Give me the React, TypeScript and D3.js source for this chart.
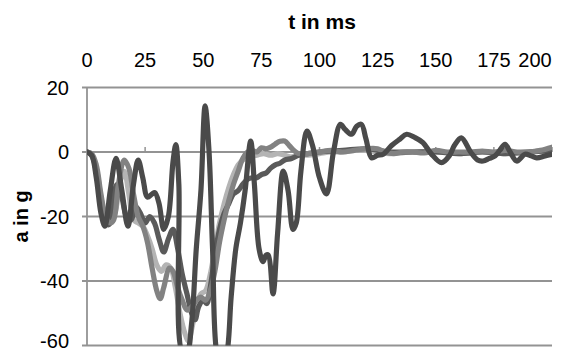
import React, { useEffect, useRef } from 'react';
import * as d3 from 'd3';

const xTicks = [0, 25, 50, 75, 100, 125, 150, 175, 200];
const yTicks = [20, 0, -20, -40, -60];

// [t in ms, a in g]
const lightSeries = [
  [0, 0], [2, -1], [4, -5], [6, -14], [8, -20], [10, -21], [12, -19], [14, -10], [16, -6], [18, -13],
  [20, -21], [22, -22], [24, -23], [26, -26], [28, -30], [30, -35], [32, -37], [34, -35], [36, -36],
  [38, -42], [40, -50], [42, -56], [43.6, -58.6], [45, -55], [47, -48], [49, -44], [51, -43], [53, -38],
  [55, -30], [57, -22], [59, -16], [61, -11], [63, -7], [65, -4], [67, -2.5], [70, -1.5], [73, -1],
  [76, -0.5], [79, -1], [82, -0.5], [85, -1], [88, -1.5], [91, -1], [95, -1], [100, -0.5], [105, 0],
  [110, 0], [115, 0.5], [120, 0.5], [125, 0], [130, -0.5], [140, 0], [150, 0], [160, -0.5], [170, 0],
  [180, -0.5], [190, 0], [200, 0.5],
];

const midSeries = [
  [0, 0], [2, -0.5], [4, -4], [6, -13], [8, -20], [10, -22], [11.5, -21], [13.5, -10], [16, -2.5],
  [18, -5], [20, -13], [22, -20], [24, -23], [26, -28], [28, -36], [30, -43], [31.5, -45.5], [33, -42],
  [35.5, -36], [37, -37], [39, -42], [41, -46], [43, -49], [45, -48], [47, -46], [49, -45], [51, -46],
  [53, -43], [55, -37], [57, -28], [59, -21], [61, -15], [63, -10], [65, -6], [67, -2], [69, 0],
  [71, 0.5], [73, 0], [75, 1.3], [77, 1], [79, 1.5], [81, 2.5], [83, 3.3], [85, 3.4], [87, 2],
  [89, 0.5], [91, -0.5], [95, -0.5], [100, 0], [105, 0.5], [110, 0], [115, 0.5], [120, 1], [125, 1],
  [128, 0], [132, -0.5], [136, 0], [140, 0], [145, -0.3], [150, 0.5], [155, 0], [160, 0], [165, 0],
  [170, 0.3], [175, 0], [180, 0.5], [185, 0], [190, 0], [195, 0.5], [200, 1.5],
];

const darkSeries = [
  [0, 0], [2, -1], [4, -6], [6, -16], [8, -22], [9.5, -22.5], [11, -15], [13, -10], [15, -14],
  [17, -20], [19, -21], [21, -17], [23, -19], [25, -22], [27, -20], [29, -22], [31, -27], [33, -31],
  [35, -27], [37, -24], [39, -30], [41, -38], [43, -44], [45, -50], [46.5, -52], [48, -48], [50, -46],
  [51.5, -47], [53, -42], [55, -32], [57, -24], [59, -19], [61, -16], [63, -13], [65, -12], [67, -10],
  [69, -8.5], [71, -8], [73, -8], [75, -7], [77, -6.5], [79, -5], [81, -4], [83, -3.5], [85, -2.5],
  [88, -2], [91, -1], [95, -0.5], [100, 0], [110, 0.5], [120, 1], [130, 0], [140, 0], [150, 0],
  [160, -0.5], [170, 0], [180, -0.5], [190, 0], [200, 0.5],
];

const darkestSeries = [
  [0, 0], [2, -1], [4, -8], [6, -19], [7.7, -23], [10, -12], [12.5, -2], [15, -12], [17.6, -23],
  [20, -10], [22, -2.5], [24, -8], [26, -14], [28, -13], [29.2, -12.6], [31, -16], [33, -24], [35, -20],
  [37, -3], [38.2, 2.3], [39.5, -10], [41, -62], [43, -62], [45, -53], [47, -30], [49, -12],
  [50.8, 14.3], [52.5, 0], [54, -30], [56, -63], [58, -66], [60, -63], [62, -45], [64, -30], [66, -22],
  [68, -12], [70.4, 3.4], [72, -10], [74, -30], [75.7, -34], [77, -32], [78, -32], [80, -44], [82, -25],
  [84.4, -5.9], [86.5, -12], [88.6, -24], [90, -22], [92, -6], [94.6, 6.5], [97, 2], [100, -8],
  [103, -13], [106, 0], [109, 8.6], [111, 7], [113.8, 5.5], [116, 8], [118, 8.6], [120, 4],
  [122.4, -1.8], [125, -1], [127.4, -0.7], [131, 2], [134.6, 4], [137.5, 5.5], [141, 4.5],
  [144.5, 2.9], [148, -0.5], [152.5, -3.3], [156, -1], [158, 2], [161, 4.4], [165, 0], [168, -2.5],
  [170.4, -2.8], [173, -2], [175.5, -1.2], [177.5, 0.5], [179.8, 2.4], [182, 0], [184.8, -2.8],
  [188.4, -0.7], [191, -1.2], [193.4, -1.8], [197, -1.2], [200, -0.7],
];

const seriesList = [
  { data: lightSeries, color: '#b4b4b4' },
  { data: darkSeries, color: '#5a5a5a' },
  { data: midSeries, color: '#828282' },
  { data: darkestSeries, color: '#4a4a4a' },
];

const App = () => {
  const svgRef = useRef(null);

  useEffect(() => {
    const svg = d3.select(svgRef.current);
    const width = 571;
    const height = 352;
    const margin = { top: 87.5, right: 19, bottom: 6.5, left: 87 };
    const plotW = width - margin.left - margin.right;
    const plotH = height - margin.top - margin.bottom;

    svg.selectAll('*').remove();

    const x = d3.scaleLinear().domain([0, 200]).range([margin.left, margin.left + plotW]);
    const y = d3.scaleLinear().domain([-60, 20]).range([margin.top + plotH, margin.top]);

    svg.append('defs').append('clipPath')
      .attr('id', 'plotClip')
      .append('rect')
      .attr('x', margin.left)
      .attr('y', margin.top)
      .attr('width', plotW)
      .attr('height', plotH);

    const font = "'Liberation Sans', Arial, sans-serif";
    const gridColor = '#939393';

    // horizontal gridlines
    svg.append('g')
      .selectAll('line')
      .data(yTicks)
      .enter().append('line')
      .attr('x1', margin.left - 5)
      .attr('x2', margin.left + plotW)
      .attr('y1', d => y(d))
      .attr('y2', d => y(d))
      .attr('stroke', gridColor)
      .attr('stroke-width', 1.8);

    // vertical axis line
    svg.append('line')
      .attr('x1', x(0)).attr('x2', x(0))
      .attr('y1', y(20)).attr('y2', y(-60))
      .attr('stroke', gridColor)
      .attr('stroke-width', 1.8);

    // tick marks on the t axis (crosses at a = 0)
    svg.append('g')
      .selectAll('line')
      .data(xTicks.slice(1))
      .enter().append('line')
      .attr('x1', d => x(d)).attr('x2', d => x(d))
      .attr('y1', y(0)).attr('y2', y(0) - 5)
      .attr('stroke', gridColor)
      .attr('stroke-width', 1.5);

    // y tick labels (bottom one nudged up so it stays inside the frame)
    svg.append('g')
      .selectAll('text')
      .data(yTicks)
      .enter().append('text')
      .attr('x', margin.left - 18)
      .attr('y', d => (d === -60 ? y(d) - 4.5 : y(d)))
      .attr('dy', '0.35em')
      .attr('text-anchor', 'end')
      .attr('font-family', font)
      .attr('font-size', 20)
      .attr('fill', '#000')
      .text(d => d);

    // x tick labels (on top)
    svg.append('g')
      .selectAll('text')
      .data(xTicks)
      .enter().append('text')
      .attr('x', d => (d === 200 ? x(d) - 17 : x(d)))
      .attr('y', 67)
      .attr('text-anchor', 'middle')
      .attr('font-family', font)
      .attr('font-size', 20)
      .attr('fill', '#000')
      .text(d => d);

    // axis titles
    svg.append('text')
      .attr('x', 322)
      .attr('y', 29)
      .attr('text-anchor', 'middle')
      .attr('font-family', font)
      .attr('font-weight', 'bold')
      .attr('font-size', 21)
      .text('t in ms');

    svg.append('text')
      .attr('transform', `translate(28,${margin.top + plotH / 2}) rotate(-90)`)
      .attr('text-anchor', 'middle')
      .attr('font-family', font)
      .attr('font-weight', 'bold')
      .attr('font-size', 20)
      .text('a in g');

    const line = d3.line()
      .curve(d3.curveCatmullRom.alpha(0.5))
      .x(d => x(d[0]))
      .y(d => y(d[1]));

    const lines = svg.append('g').attr('clip-path', 'url(#plotClip)');
    seriesList.forEach(s => {
      lines.append('path')
        .datum(s.data)
        .attr('fill', 'none')
        .attr('stroke', s.color)
        .attr('stroke-width', 5.2)
        .attr('stroke-linejoin', 'round')
        .attr('stroke-linecap', 'round')
        .attr('d', line);
    });
  }, []);

  return (
    <svg
      ref={svgRef}
      width="571"
      height="352"
      style={{ position: 'absolute', left: 0, top: 0, background: '#fff' }}
    ></svg>
  );
};

export default App;
